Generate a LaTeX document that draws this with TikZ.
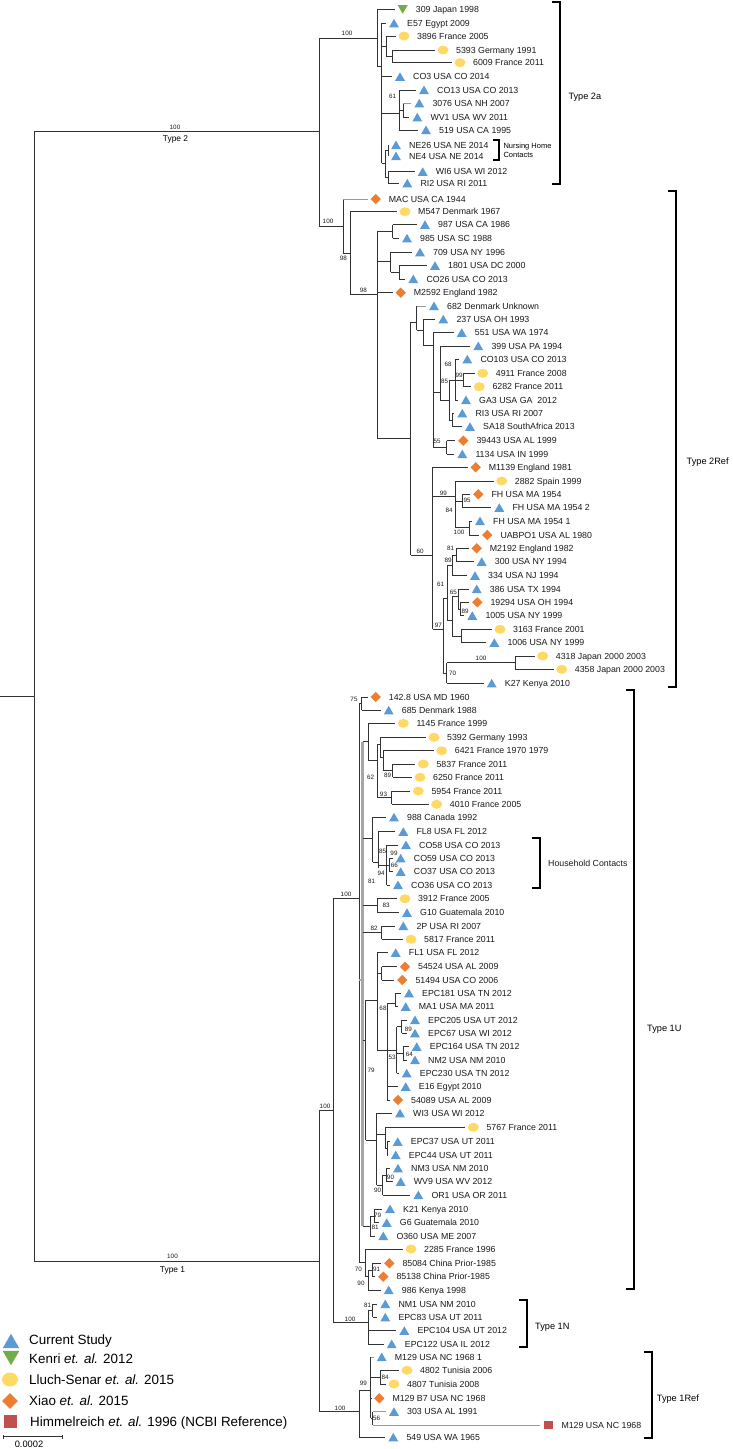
\documentclass[tikz,border=0pt]{standalone}
\usepackage{fontspec}
\setmainfont{Liberation Sans}
\usetikzlibrary{shapes.geometric}
\definecolor{cblue}{HTML}{5B9BD5}
\definecolor{cgreen}{HTML}{70AD47}
\definecolor{cyellow}{HTML}{FFD966}
\definecolor{corange}{HTML}{ED7D31}
\definecolor{cred}{HTML}{C0504D}
\definecolor{cline}{HTML}{333333}
\newcounter{lfc}
\newcounter{bsc}
\newcommand\leafx[6][br]{\stepcounter{lfc}%
  \draw[#1] (#3,#2) -- ({#4-8},#2);%
  \node[#5] (m\thelfc) at (#4,#2) {};%
  \node[lab] (t\thelfc) at ({#4+13},{#2+3.1}) {#6};}
\newcommand\inode[6][br]{\draw[#1] (#2,#3) -- (#4,#3) (#4,#5) -- (#4,#6);}
\newcommand\boot[3]{\stepcounter{bsc}\node[bsl] (b\thebsc) at (#1,#2) {#3};}
\newcommand\bracketx[4][8]{\draw[brkl] ({#2-#1},#3) -- (#2,#3) -- (#2,#4) -- ({#2-#1},#4);}
\tikzset{
  br/.style={draw=cline, line width=0.85pt},
  gbr/.style={draw=black!40, line width=0.85pt},
  gsp/.style={draw=black!35, line width=2.4pt},
  lab/.style={anchor=base west, inner sep=0, font=\fontsize{8.8}{10}\selectfont, text=black!90},
  bsl/.style={inner sep=0, font=\fontsize{6.3}{7}\selectfont, text=black!90},
  tri/.style={regular polygon, regular polygon sides=3, fill=cblue, inner sep=0, minimum size=11.5pt, yshift=-1.3pt},
  tridn/.style={regular polygon, regular polygon sides=3, shape border rotate=180, fill=cgreen, inner sep=0, minimum size=11.5pt, yshift=1.3pt},
  circ/.style={ellipse, fill=cyellow, inner sep=0, minimum width=11pt, minimum height=9pt},
  dia/.style={diamond, fill=corange, inner sep=0, minimum width=10.5pt, minimum height=10.5pt},
  sq/.style={rectangle, fill=cred, inner sep=0, minimum width=9pt, minimum height=8.5pt},
  brkl/.style={draw=black, line width=2pt},
  typ/.style={anchor=base west, inner sep=0, font=\fontsize{9.2}{11}\selectfont},
  leg/.style={anchor=base west, inner sep=0, font=\fontsize{13.4}{15}\selectfont},
}
\begin{document}
\begin{tikzpicture}[x=1pt,y=-1pt]
\useasboundingbox (0,0) rectangle (732,1449);
% root
\draw[br] (34,131) -- (34,1261.7);
\draw[br] (0,696.5) -- (34,696.5);
% ---- Type 2
\inode{34}{131}{319.3}{38.3}{226}
\boot{175}{127}{100}
\node[anchor=base, inner sep=0, font=\fontsize{8.4}{10}\selectfont] (typ2) at (175.5,141.3) {Type 2};
% Type 2a
\inode{319.3}{38.3}{377.3}{9.3}{66.7}
\boot{347}{33.5}{100}
\inode{377.3}{66.7}{381.7}{23.3}{163}
\inode{381.7}{46}{386}{36}{56.3}
\inode{386}{56.3}{392.7}{50}{62.7}
\inode{381.7}{113.3}{399.3}{90}{130}
\boot{392.5}{96}{61}
\inode{399.3}{110.3}{403.3}{103.3}{117.3}
\inode{381.7}{163}{385}{150.5}{177.5}
\inode{385}{150.5}{388}{145}{156}
\inode{385}{177.5}{388}{171.7}{183.3}
\leafx{9.3}{377.3}{402.7}{tridn}{309 Japan 1998}
\leafx{23.3}{381.7}{394}{tri}{E57 Egypt 2009}
\leafx{36}{386}{404}{circ}{3896 France 2005}
\leafx{50}{392.7}{443}{circ}{5393 Germany 1991}
\leafx{62.7}{392.7}{460}{circ}{6009 France 2011}
\leafx{76.7}{381.7}{400}{tri}{CO3 USA CO 2014}
\leafx{90}{399.3}{424}{tri}{CO13 USA CO 2013}
\leafx[gbr]{103.3}{403.3}{419.3}{tri}{3076 USA NH 2007}
\leafx{117.3}{403.3}{417.3}{tri}{WV1 USA WV 2011}
\leafx{130}{399.3}{426}{tri}{519 USA CA 1995}
\leafx{145}{388}{396}{tri}{NE26 USA NE 2014}
\leafx{156}{388}{396}{tri}{NE4 USA NE 2014}
\leafx{171.7}{388}{422.7}{tri}{WI6 USA WI 2012}
\leafx{183.3}{388}{407.3}{tri}{RI2 USA RI 2011}
% Type 2Ref
\inode{319.3}{226}{343.3}{199}{253}
\boot{328}{221.5}{100}
\inode{343.3}{253}{350}{211.7}{294}
\boot{343.3}{258}{98}
\inode{350}{294}{377.3}{231.5}{438.3}
\boot{363.3}{290}{98}
\inode{377.3}{231.5}{392.7}{224.7}{238.3}
\inode{377.3}{261}{390.7}{252.3}{272.3}
\inode{390.7}{272.3}{399.3}{265.7}{279}
\inode{377.3}{438.3}{410.7}{322}{555}
\inode{410.7}{322}{416.7}{306}{330}
\inode{416.7}{330}{423.3}{319.3}{345}
\inode{423.3}{345}{433.3}{332.7}{447.3}
\inode{433.3}{392}{440}{346}{400}
\inode{440}{400}{449}{380}{420}
\inode{449}{380}{455}{359.3}{400}
\inode{455}{380}{463.3}{373.3}{386.7}
\inode{449}{420}{452}{413.3}{426.7}
\inode{433.3}{447.3}{446.7}{440.7}{454}
\boot{448}{364.5}{68}
\boot{444.5}{381}{85}
\boot{459}{375.5}{99}
\boot{437}{441}{55}
\inode{410.7}{555}{432.7}{467.3}{629.3}
\boot{420}{551.5}{60}
\inode{432.7}{496.7}{455}{481}{527.3}
\boot{443.3}{493}{99}
\boot{449}{510}{84}
\inode{455}{501}{462.7}{494.3}{507.7}
\boot{467}{500}{95}
\inode{455}{527.3}{469.3}{521}{535}
\boot{459}{532}{100}
\inode{432.7}{629.3}{443.3}{598}{673}
\boot{438.3}{625.5}{97}
\inode{443.3}{598}{447}{565}{620}
\boot{440.5}{584}{61}
\inode{447}{565}{452}{555}{575.7}
\boot{448}{560.5}{89}
\inode{452}{555}{456}{548.3}{561.7}
\boot{450.5}{548.5}{81}
\inode{447}{620}{452}{596}{636}
\inode{452}{596}{458.3}{589}{609}
\boot{453.3}{592}{65}
\inode{458.3}{609}{460.5}{602.3}{615.7}
\boot{465}{611.5}{89}
\inode{452}{636}{461}{629.3}{642.7}
\inode{443.3}{673}{446.7}{662.7}{683.3}
\boot{452.5}{673}{70}
\inode{446.7}{662.7}{515}{656}{669.3}
\boot{481}{658.5}{100}
\leafx[gbr]{199}{343.3}{375.7}{dia}{MAC USA CA 1944}
\leafx{211.7}{350}{405}{circ}{M547 Denmark 1967}
\leafx{224.7}{392.7}{425}{tri}{987 USA CA 1986}
\leafx{238.3}{392.7}{407}{tri}{985 USA SC 1988}
\leafx{252.3}{390.7}{420}{tri}{709 USA NY 1996}
\leafx{265.7}{399.3}{435}{tri}{1801 USA DC 2000}
\leafx{279}{399.3}{413.3}{tri}{CO26 USA CO 2013}
\leafx{292.7}{377.3}{400.7}{dia}{M2592 England 1982}
\leafx[gbr]{306}{416.7}{434}{tri}{682 Denmark Unknown}
\leafx{319.3}{423.3}{443.3}{tri}{237 USA OH 1993}
\leafx{332.7}{433.3}{461.7}{tri}{551 USA WA 1974}
\leafx{346}{440}{478.3}{tri}{399 USA PA 1994}
\leafx{359.3}{455}{467.3}{tri}{CO103 USA CO 2013}
\leafx{373.3}{463.3}{482.7}{circ}{4911 France 2008}
\leafx{386.7}{463.3}{479.3}{circ}{6282 France 2011}
\leafx{400}{455}{466}{tri}{GA3 USA GA\ \ 2012}
\leafx{413.3}{452}{462.3}{tri}{RI3 USA RI 2007}
\leafx{426.7}{452}{470}{tri}{SA18 SouthAfrica 2013}
\leafx{440.7}{446.7}{463.3}{dia}{39443 USA AL 1999}
\leafx{454}{446.7}{462.3}{tri}{1134 USA IN 1999}
\leafx{467.3}{432.7}{475.7}{dia}{M1139 England 1981}
\leafx{481}{455}{501.7}{circ}{2882 Spain 1999}
\leafx{494.3}{462.7}{478.3}{dia}{FH USA MA 1954}
\leafx{507.7}{462.7}{499.3}{tri}{FH USA MA 1954 2}
\leafx{521}{469.3}{480}{tri}{FH USA MA 1954 1}
\leafx{535}{469.3}{487.3}{dia}{UABPO1 USA AL 1980}
\leafx{548.3}{456}{476.7}{dia}{M2192 England 1982}
\leafx{561.7}{456}{481.7}{tri}{300 USA NY 1994}
\leafx{575.7}{452}{475}{tri}{334 USA NJ 1994}
\leafx{589}{458.3}{476.7}{tri}{386 USA TX 1994}
\leafx{602.3}{460.5}{477.3}{dia}{19294 USA OH 1994}
\leafx{615.7}{460.5}{472.3}{tri}{1005 USA NY 1999}
\leafx{629.3}{461}{500}{circ}{3163 France 2001}
\leafx{642.7}{461}{494.3}{tri}{1006 USA NY 1999}
\leafx{656}{515}{542.7}{circ}{4318 Japan 2000 2003}
\leafx{669.3}{515}{561.7}{circ}{4358 Japan 2000 2003}
\leafx{683.3}{446.7}{491.7}{tri}{K27 Kenya 2010}
% ---- Type 1
\inode{34}{1261.7}{319.3}{1110.7}{1411.7}
\boot{172.5}{1256.7}{100}
\node[anchor=base, inner sep=0, font=\fontsize{8.4}{10}\selectfont] (typ1) at (172.5,1272) {Type 1};
\inode{319.3}{1110.7}{333.3}{898.3}{1322.7}
\boot{325}{1106.5}{100}
\inode{333.3}{898.3}{359.3}{703.7}{1262}
\boot{346}{894.5}{100}
\inode{359.3}{703.7}{361.7}{697}{710.3}
\boot{354}{699.5}{75}
\inode[gsp]{359.3}{980}{362.5}{741.7}{1226}
\inode{362.5}{741.7}{368.3}{723.3}{760}
\boot{370.5}{777.5}{62}
\inode{368.3}{760}{377.3}{744}{797.7}
\inode{377.3}{744}{380}{737.3}{757}
\inode{380}{757}{383.3}{750.7}{770.7}
\inode{383.3}{770.7}{392.7}{764}{777.3}
\boot{387.5}{775.5}{89}
\inode{377.3}{797.7}{391.7}{791}{804.3}
\boot{383.5}{794}{93}
\inode{362.5}{838}{372.7}{817.3}{862}
\boot{371.7}{881.7}{81}
\inode{372.7}{862}{378}{831.7}{868}
\boot{381}{873.3}{94}
\inode{378}{865}{386.7}{845}{885}
\boot{382.5}{851}{85}
\inode{386.7}{865}{389.3}{858.3}{871.7}
\boot{394}{853.5}{99}
\boot{394.3}{865.7}{66}
\inode{362.5}{905.7}{377.3}{898.7}{912.7}
\boot{386}{905.7}{83}
\inode{362.5}{932.7}{381.7}{926}{939.3}
\boot{374}{928.5}{82}
\inode{362.5}{1040}{365.5}{1000}{1140}
\boot{371}{1070.7}{79}
\inode{365.5}{1000}{377.3}{952.7}{1050}
\inode{377.3}{973.3}{381.7}{966.7}{980}
\inode{377.3}{1050}{387.3}{1003}{1100}
\inode{387.3}{1003}{395}{993.3}{1006.7}
\boot{383}{1008}{68}
\inode{387.3}{1050}{396.7}{1026.7}{1073.3}
\boot{392}{1057}{53}
\inode{396.7}{1026.7}{401.7}{1020}{1033.3}
\boot{408.3}{1029.3}{89}
\inode{396.7}{1053.3}{403.3}{1046.7}{1060}
\boot{409.3}{1054.3}{64}
\inode{365.5}{1140}{376.7}{1113.3}{1185}
\inode{376.7}{1134}{385}{1127.3}{1148.3}
\inode{385}{1148.3}{387.3}{1141.7}{1155}
\inode{376.7}{1185}{382.7}{1175}{1195}
\boot{377.5}{1190}{90}
\inode{382.7}{1175}{386.7}{1168.3}{1181.7}
\boot{390.5}{1177.3}{90}
\inode{362.5}{1226}{370}{1216}{1236}
\inode{370}{1216}{374}{1209}{1222.7}
\boot{377.5}{1215.8}{79}
\boot{375}{1227.5}{81}
\inode{359.3}{1262}{365}{1249}{1276}
\boot{358.3}{1269}{70}
\inode{365}{1276}{368.3}{1270}{1290}
\boot{361}{1283.3}{90}
\inode{368.3}{1270}{372.7}{1263.3}{1276.7}
\boot{376.7}{1269}{91}
% Type 1N
\inode{333.3}{1322.7}{368.3}{1310.7}{1344}
\boot{350}{1319}{100}
\inode{368.3}{1310.7}{372.7}{1304}{1317.3}
\boot{367.5}{1305.5}{81}
% Type 1Ref
\inode{319.3}{1411.7}{359.3}{1390}{1437.3}
\boot{340}{1408}{100}
\inode{359.3}{1390}{370.7}{1357}{1418.3}
\boot{363.3}{1383}{99}
\inode{370.7}{1377}{380}{1370.3}{1384}
\boot{385}{1377.3}{84}
\inode{370.7}{1418.3}{372.7}{1411.7}{1425}
\boot{376.7}{1418.3}{56}
\leafx{697}{361.7}{375.7}{dia}{142.8 USA MD 1960}
\leafx{710.3}{361.7}{388.7}{tri}{685 Denmark 1988}
\leafx{723.3}{368.3}{403.3}{circ}{1145 France 1999}
\leafx{737.3}{380}{434}{circ}{5392 Germany 1993}
\leafx{750.7}{383.3}{441.7}{circ}{6421 France 1970 1979}
\leafx{764}{392.7}{423.3}{circ}{5837 France 2011}
\leafx{777.3}{392.7}{420}{circ}{6250 France 2011}
\leafx{791}{391.7}{418.3}{circ}{5954 France 2011}
\leafx{804.3}{391.7}{436.7}{circ}{4010 France 2005}
\leafx{817.3}{372.7}{394}{tri}{988 Canada 1992}
\leafx{831.7}{378}{403.3}{tri}{FL8 USA FL 2012}
\leafx{845}{386.7}{406}{tri}{CO58 USA CO 2013}
\leafx{858.3}{389.3}{400.7}{tri}{CO59 USA CO 2013}
\leafx{871.7}{389.3}{400.7}{tri}{CO37 USA CO 2013}
\leafx{885}{386.7}{398}{tri}{CO36 USA CO 2013}
\leafx{898.7}{377.3}{405}{circ}{3912 France 2005}
\leafx{912.7}{377.3}{407}{tri}{G10 Guatemala 2010}
\leafx{926}{381.7}{403.3}{tri}{2P USA RI 2007}
\leafx{939.3}{381.7}{411}{circ}{5817 France 2011}
\leafx{952.7}{377.3}{395.7}{tri}{FL1 USA FL 2012}
\leafx{966.7}{381.7}{405}{dia}{54524 USA AL 2009}
\leafx{980}{381.7}{402.3}{dia}{51494 USA CO 2006}
\leafx{993.3}{395}{409}{tri}{EPC181 USA TN 2012}
\leafx{1006.7}{395}{405.7}{tri}{MA1 USA MA 2011}
\leafx{1020}{401.7}{415}{tri}{EPC205 USA UT 2012}
\leafx{1033.3}{401.7}{415}{tri}{EPC67 USA WI 2012}
\leafx{1046.7}{403.3}{416.7}{tri}{EPC164 USA TN 2012}
\leafx{1060}{403.3}{415}{tri}{NM2 USA NM 2010}
\leafx{1073.3}{396.7}{406.7}{tri}{EPC230 USA TN 2012}
\leafx{1086.7}{387.3}{405.7}{tri}{E16 Egypt 2010}
\leafx{1100}{387.3}{398}{dia}{54089 USA AL 2009}
\leafx{1113.3}{376.7}{400}{tri}{WI3 USA WI 2012}
\leafx{1127.3}{385}{473.3}{circ}{5767 France 2011}
\leafx{1141.7}{387.3}{397.7}{tri}{EPC37 USA UT 2011}
\leafx{1155}{387.3}{395.7}{tri}{EPC44 USA UT 2011}
\leafx{1168.3}{386.7}{398}{tri}{NM3 USA NM 2010}
\leafx{1181.7}{386.7}{400.7}{tri}{WV9 USA WV 2012}
\leafx{1195}{382.7}{418.3}{tri}{OR1 USA OR 2011}
\leafx{1209}{374}{390}{tri}{K21 Kenya 2010}
\leafx{1222.7}{374}{386.7}{tri}{G6 Guatemala 2010}
\leafx{1236}{370}{383.3}{tri}{O360 USA ME 2007}
\leafx{1249}{365}{411}{circ}{2285 France 1996}
\leafx{1263.3}{372.7}{389.3}{dia}{85084 China Prior-1985}
\leafx{1276.7}{372.7}{383.3}{dia}{85138 China Prior-1985}
\leafx{1290}{368.3}{388.7}{tri}{986 Kenya 1998}
\leafx{1304}{372.7}{385.3}{tri}{NM1 USA NM 2010}
\leafx{1317.3}{372.7}{385.3}{tri}{EPC83 USA UT 2011}
\leafx{1330.7}{368.3}{404.3}{tri}{EPC104 USA UT 2012}
\leafx{1344}{368.3}{391.7}{tri}{EPC122 USA IL 2012}
\leafx[gbr]{1357}{370.7}{381.7}{tri}{M129 USA NC 1968 1}
\leafx{1370.3}{380}{407}{circ}{4802 Tunisia 2006}
\leafx{1384}{380}{394}{circ}{4807 Tunisia 2008}
\leafx{1398.3}{370.7}{379.3}{dia}{M129 B7 USA NC 1968}
\leafx[gbr]{1411.7}{372.7}{394}{tri}{303 USA AL 1991}
\leafx[gbr]{1425}{372.7}{548.3}{sq}{M129 USA NC 1968}
\leafx{1437.3}{359.3}{393.3}{tri}{549 USA WA 1965}
% ---- brackets
\bracketx{560}{2}{184}
\node[typ] (lb2a) at (568.3,99.3) {Type 2a};
\bracketx[6]{499.3}{139.5}{159.5}
\node[anchor=base west, inner sep=0, font=\fontsize{7.5}{8}\selectfont] (lnh1) at (503.3,148.6) {Nursing Home};
\node[anchor=base west, inner sep=0, font=\fontsize{7.5}{8}\selectfont] (lnh2) at (503.3,157) {Contacts};
\bracketx{676}{191}{687.4}
\node[typ] (lb2r) at (686.5,464.7) {Type 2Ref};
\bracketx{634}{690}{1289}
\node[typ] (lb1u) at (647,1031) {Type 1U};
\bracketx{540}{838}{888}
\node[lab] (lbhc) at (548,866) {Household Contacts};
\bracketx{527}{1300}{1346.7}
\node[typ] (lb1n) at (535,1329) {Type 1N};
\bracketx{651.7}{1352}{1438}
\node[typ] (lb1r) at (656.7,1401) {Type 1Ref};
% ---- legend
\node[tri, minimum size=19pt, yshift=-2pt] (lm1) at (11,1340) {};
\node[leg] (lt1) at (29,1344.8) {Current Study};
\node[tridn, minimum size=19pt, yshift=2pt] (lm2) at (11,1359) {};
\node[leg] (lt2) at (29,1363.5) {Kenri \textit{et. al.} 2012};
\node[circ, minimum width=16pt, minimum height=14pt] (lm3) at (10,1379.5) {};
\node[leg] (lt3) at (29,1384.3) {Lluch-Senar \textit{et. al.} 2015};
\node[dia, minimum width=16pt, minimum height=16pt] (lm4) at (10,1401) {};
\node[leg] (lt4) at (29,1405.8) {Xiao \textit{et. al.} 2015};
\node[sq, minimum width=13pt, minimum height=13pt] (lm5) at (10,1421.7) {};
\node[leg] (lt5) at (30,1426.5) {Himmelreich \textit{et. al.} 1996 (NCBI Reference)};
% scale bar
\draw[br] (3.3,1436.7) -- (62.7,1436.7);
\draw[br] (3.3,1434.5) -- (3.3,1438.9);
\draw[br] (62.7,1434.5) -- (62.7,1438.9);
\node[inner sep=0, font=\fontsize{9.3}{10}\selectfont] (scl) at (29,1444.5) {0.0002};
\end{tikzpicture}
\end{document}
